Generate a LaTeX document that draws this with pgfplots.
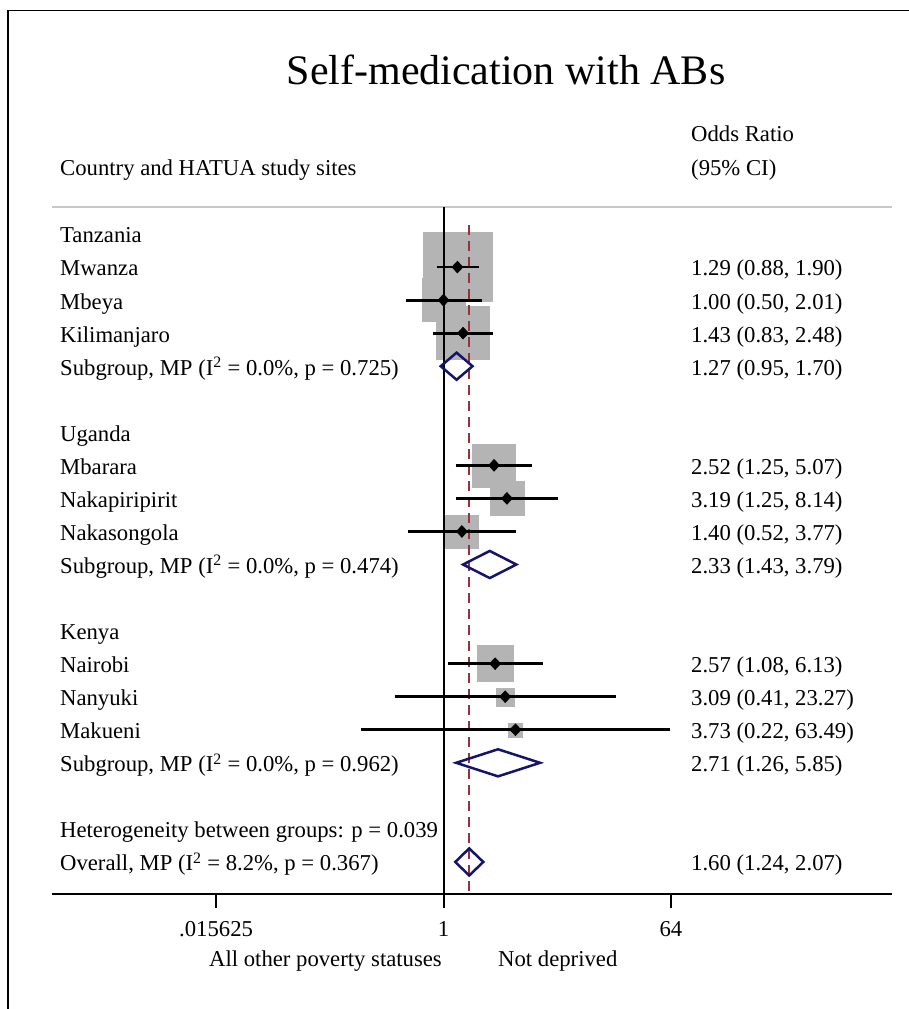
\documentclass[border=0pt]{standalone}
\usepackage{fontspec}
\setmainfont{Liberation Serif}
\usepackage{pgfplots}
\usepackage{pgfplotstable}
\pgfplotsset{compat=1.18}

\definecolor{boxgray}{RGB}{180,180,180}
\definecolor{navyd}{RGB}{20,20,110}
\definecolor{maroonl}{RGB}{150,50,58}
\definecolor{hdrgray}{RGB}{200,200,200}

% individual study sites: row, OR, lower, upper, half box size (weight)
\pgfplotstableread{
r  or   lo    hi     ms
2  1.29 0.88  1.90   34.5
3  1.00 0.50  2.01   21.5
4  1.43 0.83  2.48   26.5
8  2.52 1.25  5.07   21.5
9  3.19 1.25  8.14   17
10 1.40 0.52  3.77   16.5
14 2.57 1.08  6.13   18
15 3.09 0.41  23.27  9
16 3.73 0.22  63.49  7
}\studies

\newcommand{\lx}{0.000899}
\newcommand{\rx}{92.4}
\newcommand{\bo}{0.27}

\begin{document}
\begin{tikzpicture}[font=\fontsize{22.7}{27.2}\selectfont, every node/.append style={inner sep=0pt}]
\useasboundingbox (0pt,0pt) rectangle (909pt,-1009pt);
\draw[line width=1.2pt] (8pt,-1012pt) -- (8pt,-10.7pt) -- (912pt,-10.7pt);

\begin{axis}[
  at={(52pt,-894pt)}, anchor=south west,
  width=840pt, height=687pt, scale only axis,
  xmode=log, log basis x=2,
  xmin=0.000777, xmax=3650,
  ymin=0.183, ymax=20.97, y dir=reverse,
  axis x line=bottom, axis y line=none,
  x axis line style={-, line width=2pt},
  xtick={0.015625,1,64},
  xticklabels={.015625,1,64},
  minor xtick={},
  tick align=outside,
  major tick length=14pt,
  tick style={black, line width=2pt},
  xticklabel style={anchor=base, yshift=-28pt, font=\fontsize{22.7}{27.2}\selectfont},
  ytick=\empty,
  clip=false,
  clip marker paths=true,
]
% header rule
\addplot[hdrgray, line width=2pt] coordinates {(0.000777,0.183) (3650,0.183)};

% weight boxes
\addplot[scatter, only marks, mark=square*,
  scatter/use mapped color={draw=boxgray, fill=boxgray},
  visualization depends on={\thisrow{ms} \as \boxsize},
  scatter/@pre marker code/.append style={/tikz/mark size=\boxsize, /tikz/line width=0.1pt}]
  table[x=or, y=r] {\studies};

% null line
\addplot[black, line width=2pt] coordinates {(1,0.183) (1,20.97)};

% overall estimate line
\addplot[maroonl, line width=2pt, dash pattern=on 10pt off 6pt] coordinates {(1.60,0.73) (1.60,20.97)};

% CI lines
\addplot[black, line width=2.8pt] coordinates {(0.88,2) (1.90,2)};
\addplot[black, line width=2.8pt] coordinates {(0.50,3) (2.01,3)};
\addplot[black, line width=2.8pt] coordinates {(0.83,4) (2.48,4)};
\addplot[black, line width=2.8pt] coordinates {(1.25,8) (5.07,8)};
\addplot[black, line width=2.8pt] coordinates {(1.25,9) (8.14,9)};
\addplot[black, line width=2.8pt] coordinates {(0.52,10) (3.77,10)};
\addplot[black, line width=2.8pt] coordinates {(1.08,14) (6.13,14)};
\addplot[black, line width=2.8pt] coordinates {(0.41,15) (23.27,15)};
\addplot[black, line width=2.8pt] coordinates {(0.22,16) (63.49,16)};

% point estimates
\addplot[only marks, mark=diamond*, mark size=6pt, black, mark options={xscale=1.25}] table[x=or, y=r] {\studies};

% pooled diamonds
\addplot[navyd, line width=2.5pt] coordinates {(0.95,5) (1.27,4.59) (1.70,5) (1.27,5.41) (0.95,5) (1.27,4.59)};
\addplot[navyd, line width=2.5pt] coordinates {(1.43,11) (2.33,10.59) (3.79,11) (2.33,11.41) (1.43,11) (2.33,10.59)};
\addplot[navyd, line width=2.5pt] coordinates {(1.26,17) (2.71,16.59) (5.85,17) (2.71,17.41) (1.26,17) (2.71,16.59)};
\addplot[navyd, line width=2.5pt] coordinates {(1.24,20) (1.60,19.59) (2.07,20) (1.60,20.41) (1.24,20) (1.60,19.59)};

% left column
\node[anchor=base west] at (axis cs:\lx,1+\bo) {Tanzania};
\node[anchor=base west] at (axis cs:\lx,2+\bo) {Mwanza};
\node[anchor=base west] at (axis cs:\lx,3+\bo) {Mbeya};
\node[anchor=base west] at (axis cs:\lx,4+\bo) {Kilimanjaro};
\node[anchor=base west] at (axis cs:\lx,5+\bo) {Subgroup, MP (I\textsuperscript{2} = 0.0\%, p = 0.725)};
\node[anchor=base west] at (axis cs:\lx,7+\bo) {Uganda};
\node[anchor=base west] at (axis cs:\lx,8+\bo) {Mbarara};
\node[anchor=base west] at (axis cs:\lx,9+\bo) {Nakapiripirit};
\node[anchor=base west] at (axis cs:\lx,10+\bo) {Nakasongola};
\node[anchor=base west] at (axis cs:\lx,11+\bo) {Subgroup, MP (I\textsuperscript{2} = 0.0\%, p = 0.474)};
\node[anchor=base west] at (axis cs:\lx,13+\bo) {Kenya};
\node[anchor=base west] at (axis cs:\lx,14+\bo) {Nairobi};
\node[anchor=base west] at (axis cs:\lx,15+\bo) {Nanyuki};
\node[anchor=base west] at (axis cs:\lx,16+\bo) {Makueni};
\node[anchor=base west] at (axis cs:\lx,17+\bo) {Subgroup, MP (I\textsuperscript{2} = 0.0\%, p = 0.962)};
\node[anchor=base west] at (axis cs:\lx,19+\bo) {Heterogeneity between groups: p = 0.039};
\node[anchor=base west] at (axis cs:\lx,20+\bo) {Overall, MP (I\textsuperscript{2} = 8.2\%, p = 0.367)};

% right column
\node[anchor=base west] at (axis cs:\rx,2+\bo) {1.29 (0.88, 1.90)};
\node[anchor=base west] at (axis cs:\rx,3+\bo) {1.00 (0.50, 2.01)};
\node[anchor=base west] at (axis cs:\rx,4+\bo) {1.43 (0.83, 2.48)};
\node[anchor=base west] at (axis cs:\rx,5+\bo) {1.27 (0.95, 1.70)};
\node[anchor=base west] at (axis cs:\rx,8+\bo) {2.52 (1.25, 5.07)};
\node[anchor=base west] at (axis cs:\rx,9+\bo) {3.19 (1.25, 8.14)};
\node[anchor=base west] at (axis cs:\rx,10+\bo) {1.40 (0.52, 3.77)};
\node[anchor=base west] at (axis cs:\rx,11+\bo) {2.33 (1.43, 3.79)};
\node[anchor=base west] at (axis cs:\rx,14+\bo) {2.57 (1.08, 6.13)};
\node[anchor=base west] at (axis cs:\rx,15+\bo) {3.09 (0.41, 23.27)};
\node[anchor=base west] at (axis cs:\rx,16+\bo) {3.73 (0.22, 63.49)};
\node[anchor=base west] at (axis cs:\rx,17+\bo) {2.71 (1.26, 5.85)};
\node[anchor=base west] at (axis cs:\rx,20+\bo) {1.60 (1.24, 2.07)};
\end{axis}

% title and headers
\node[anchor=base, font=\fontsize{42}{50}\selectfont] at (506pt,-84pt) {Self-medication with ABs};
\node[anchor=base west] at (60pt,-175pt) {Country and HATUA study sites};
\node[anchor=base west] at (691pt,-141pt) {Odds Ratio};
\node[anchor=base west] at (691pt,-175pt) {(95\% CI)};
% favours labels
\node[anchor=base east] at (442pt,-966pt) {All other poverty statuses};
\node[anchor=base west] at (498pt,-966pt) {Not deprived};
\end{tikzpicture}
\end{document}
